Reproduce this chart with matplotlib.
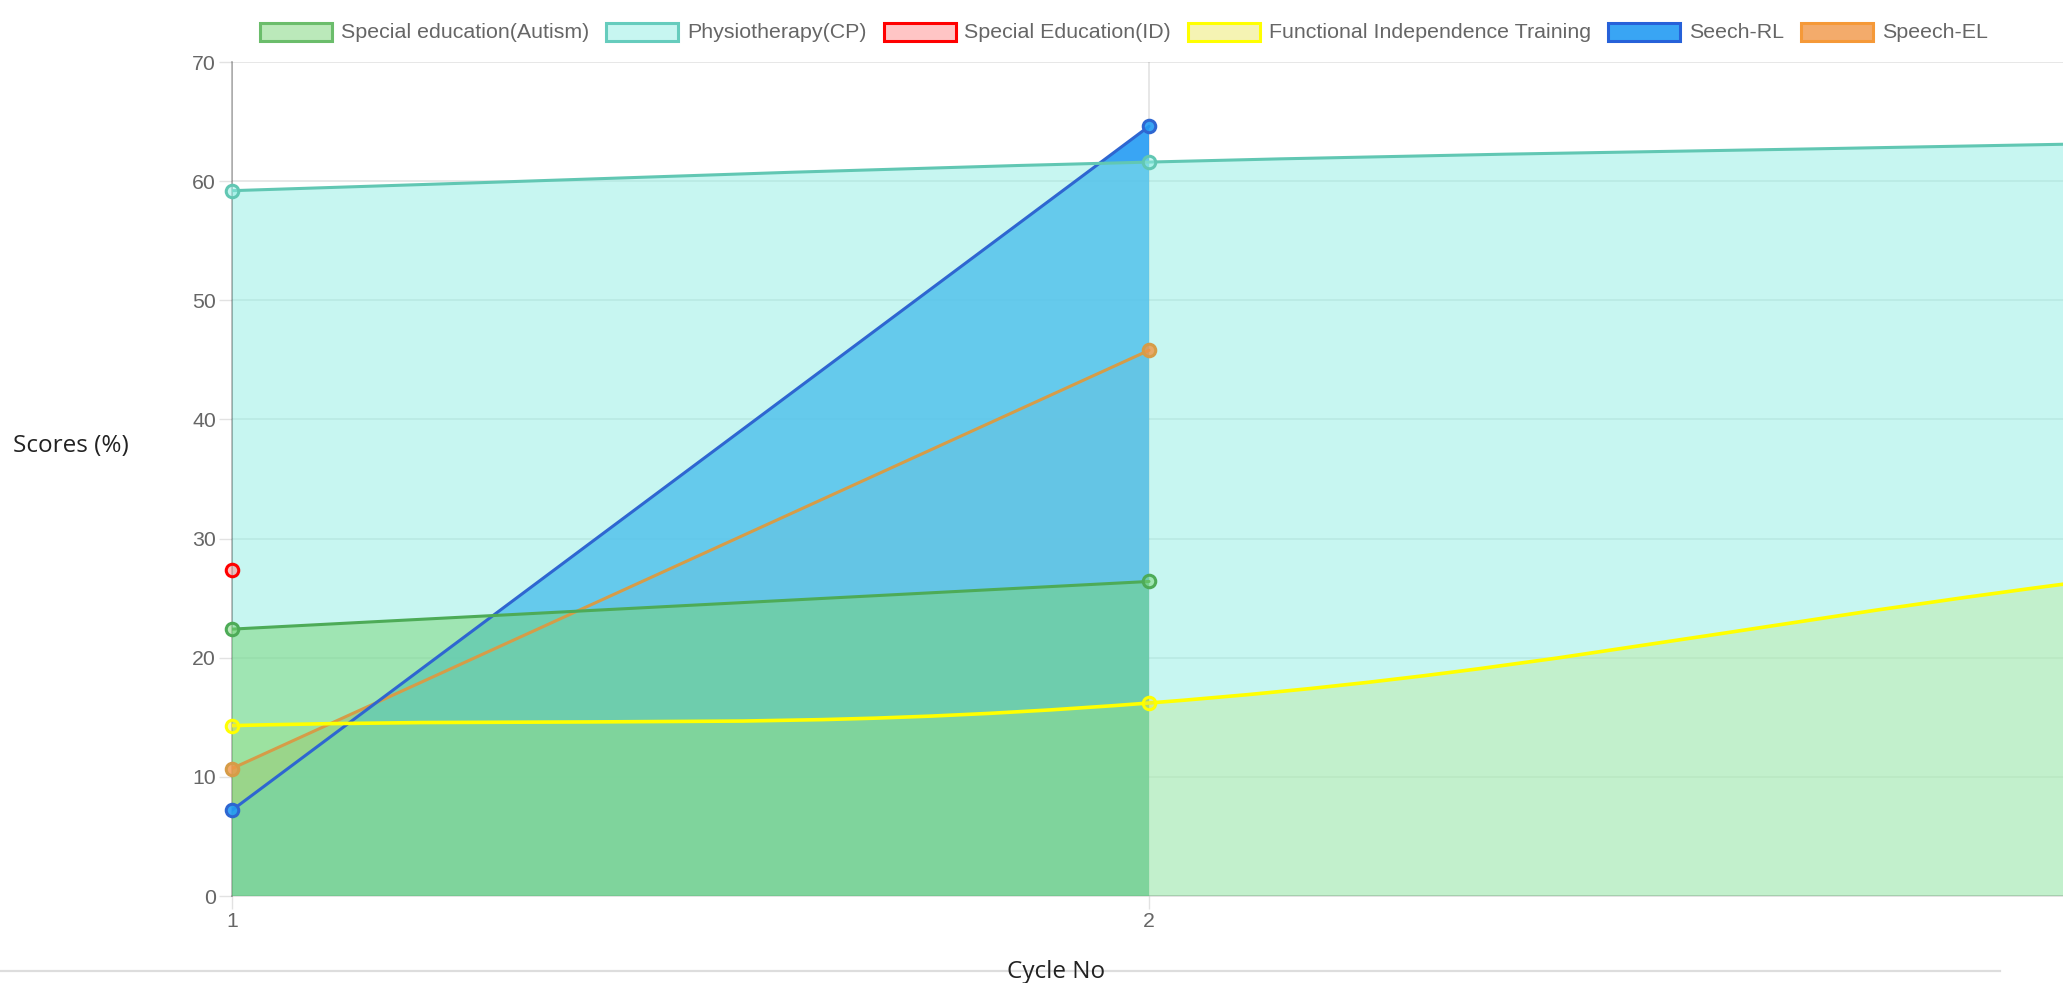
import numpy as np
import matplotlib
matplotlib.use('Agg')
import matplotlib.pyplot as plt
from matplotlib.path import Path
from matplotlib.patches import PathPatch, Rectangle
from matplotlib.lines import Line2D

W, H = 2063, 983

# data
cycles = [1, 2, 3]
x_tick_labels = ['1', '2']
y_ticks = [0, 10, 20, 30, 40, 50, 60, 70]

series_names = ['Special education(Autism)', 'Physiotherapy(CP)', 'Special Education(ID)',
                'Functional Independence Training', 'Seech-RL', 'Speech-EL']
autism = [22.4, 26.4]
physio = [59.2, 61.6, 63.1]
special_id = [27.4]
fit_training = [14.3, 16.2, 26.2]
speech_rl = [7.2, 64.6]
speech_el = [10.7, 45.8]
series_values = [autism, physio, special_id, fit_training, speech_rl, speech_el]

# (line colour, fill colour, legend border, line width)
styles = [
    ((0.30, 0.67, 0.34), (120/255, 213/255, 118/255, 0.5), (0.42, 0.74, 0.42), 2.2),
    ((0.38, 0.78, 0.70), (145/255, 239/255, 229/255, 0.5), (0.40, 0.80, 0.74), 2.2),
    ((1.00, 0.00, 0.00), (1.00, 0.55, 0.55, 0.5), (1.00, 0.00, 0.00), 2.2),
    ((1.00, 1.00, 0.00), (230/255, 225/255, 65/255, 0.4), (1.00, 1.00, 0.00), 2.6),
    ((0.18, 0.40, 0.82), (35/255, 155/255, 243/255, 0.9), (0.15, 0.38, 0.85), 2.2),
    ((0.84, 0.61, 0.28), (240/255, 150/255, 70/255, 0.8), (0.96, 0.60, 0.22), 2.2),
]
TENSION = 0.4

fig = plt.figure(figsize=(W / 100, H / 100), dpi=100)
# x=3 sits just past the right edge of the screenshot
ax = fig.add_axes([232 / W, (H - 896) / H, (2066 - 232) / W, (896 - 62) / H])
ax.set_xlim(1, 3)
ax.set_ylim(0, 70)
ax.set_xticks([1, 2])
ax.set_xticklabels(x_tick_labels)
ax.set_yticks(y_ticks)

ax.grid(True, color='black', alpha=0.1, linewidth=1.3, zorder=0)
ax.set_axisbelow(True)
for s in ['top', 'right']:
    ax.spines[s].set_visible(False)
ax.spines['left'].set_color((0, 0, 0, 0.28))
ax.spines['left'].set_linewidth(1.3)
ax.spines['bottom'].set_color((0, 0, 0, 0.12))
ax.spines['bottom'].set_linewidth(1.3)
ax.tick_params(axis='both', length=9.5, width=1.0, color='#e2e2e2',
               labelsize=15.3, labelcolor='#666666', pad=2)
for lab in ax.get_xticklabels() + ax.get_yticklabels():
    lab.set_fontfamily('Liberation Sans')


def spline_points(xs, ys):
    # chart.js style bezier control points, worked out in pixel space
    pts = ax.transData.transform(np.column_stack([xs, ys]))
    n = len(pts)
    c_prev, c_next = [], []
    for i in range(n):
        prev = pts[max(i - 1, 0)]
        cur = pts[i]
        nxt = pts[min(i + 1, n - 1)]
        d01 = np.hypot(*(cur - prev))
        d12 = np.hypot(*(nxt - cur))
        tot = d01 + d12
        s01 = d01 / tot if tot else 0
        s12 = d12 / tot if tot else 0
        c_prev.append(cur - TENSION * s01 * (nxt - prev))
        c_next.append(cur + TENSION * s12 * (nxt - prev))
    verts = [pts[0]]
    codes = [Path.MOVETO]
    for i in range(1, n):
        verts += [c_next[i - 1], c_prev[i], pts[i]]
        codes += [Path.CURVE4] * 3
    return ax.transData.inverted().transform(np.array(verts)), codes


# fills first, last dataset at the bottom
n_series = len(series_values)
for idx in range(n_series - 1, -1, -1):
    vals = series_values[idx]
    if len(vals) < 2:
        continue
    xs = cycles[:len(vals)]
    verts, codes = spline_points(xs, vals)
    fverts = list(verts) + [(xs[-1], 0), (xs[0], 0), (xs[0], vals[0])]
    fcodes = codes + [Path.LINETO, Path.LINETO, Path.CLOSEPOLY]
    ax.add_patch(PathPatch(Path(fverts, fcodes), facecolor=styles[idx][1],
                           edgecolor='none', zorder=2 + (n_series - idx) * 0.1))

# markers may spill over the left edge but not show at the cut-off right edge
marker_clip = Rectangle((-0.05, -0.05), 1.045, 1.1, transform=ax.transAxes,
                        facecolor='none', edgecolor='none')

# lines and points
for idx in range(n_series - 1, -1, -1):
    vals = series_values[idx]
    xs = cycles[:len(vals)]
    line_c, fill_c, _, lw = styles[idx]
    z = 5 + (n_series - idx) * 0.1
    if len(vals) >= 2:
        verts, codes = spline_points(xs, vals)
        ax.add_patch(PathPatch(Path(verts, codes), facecolor='none', edgecolor=line_c,
                               linewidth=lw, zorder=z, capstyle='round', joinstyle='round'))
    pts, = ax.plot(xs, vals, linestyle='none', marker='o', markersize=9,
                   markerfacecolor=fill_c, markeredgecolor=line_c, markeredgewidth=2.2,
                   zorder=z + 0.05)
    pts.set_clip_path(marker_clip)

# legend across the top, drawn like chart.js
renderer = fig.canvas.get_renderer()
box_w, box_h, gap_txt, gap_item = 72, 18, 9, 17
leg_y = H - 32
texts = []
total = 0
for name in series_names:
    t = fig.text(0, 0, name, fontsize=15.4, color='#666666', family='Liberation Sans',
                 va='center', ha='left')
    w = t.get_window_extent(renderer).width
    texts.append((t, w))
    total += box_w + gap_txt + w + gap_item
total -= gap_item
x0 = 1124 - total / 2
for idx, (t, w) in enumerate(texts):
    _, fill_c, edge_c, _ = styles[idx]
    fig.add_artist(Rectangle((x0 / W, (leg_y - box_h / 2) / H), box_w / W, box_h / H,
                             transform=fig.transFigure, facecolor=fill_c,
                             edgecolor=edge_c, linewidth=2.2))
    t.set_position(((x0 + box_w + gap_txt) / W, leg_y / H))
    x0 += box_w + gap_txt + w + gap_item

# axis titles
fig.text(71 / W, (H - 446) / H, 'Scores (%)', fontsize=17.5, color='#222222',
         family='Open Sans', ha='center', va='center')
fig.add_artist(Line2D([0, 2000 / W], [(H - 971) / H, (H - 971) / H],
                      transform=fig.transFigure, color='#dddddd', linewidth=1.6))
fig.text(1056 / W, (H - 972) / H, 'Cycle No', fontsize=17.5, color='#222222',
         family='Open Sans', ha='center', va='center')

fig.savefig('out.png', dpi=100)
